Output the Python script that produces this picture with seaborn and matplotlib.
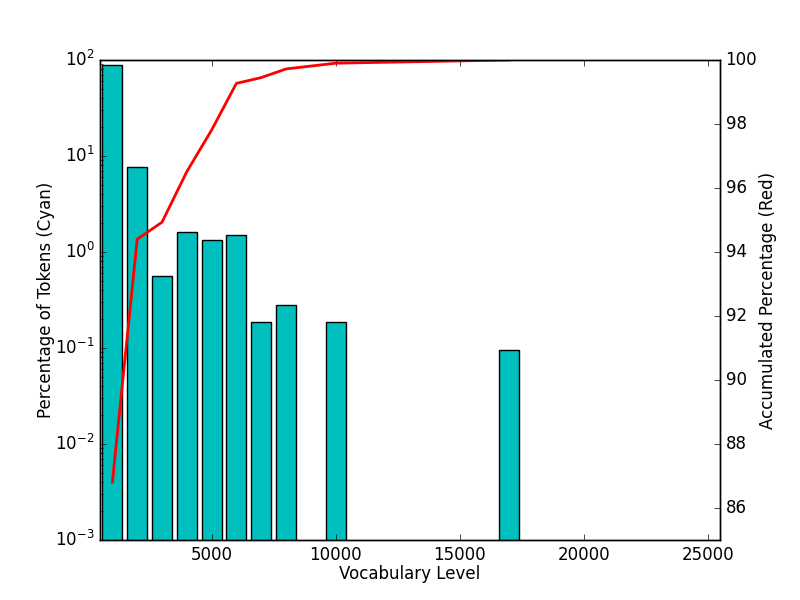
import matplotlib
matplotlib.use("Agg")
import matplotlib.pyplot as plt
import seaborn as sns
import numpy as np

levels = [1000, 2000, 3000, 4000, 5000, 6000, 7000, 8000, 10000, 17000]
token_pct = [88.7, 7.62, 0.558, 1.60, 1.32, 1.49, 0.185, 0.279, 0.185, 0.0946]

acc_levels = [1000, 2000, 3000, 4000, 5000, 6000, 7000, 8000, 9000, 10000, 17000]
acc_pct = [86.81, 94.40, 94.93, 96.51, 97.81, 99.27, 99.45, 99.72, 99.81, 99.90, 100.0]

plt.style.use("classic")
plt.rcParams["font.family"] = ["DejaVu Sans"]
plt.rcParams["axes.unicode_minus"] = False

fig = plt.figure(figsize=(8, 6), dpi=100, facecolor="white")
ax = fig.add_axes([0.125, 0.1, 0.775, 0.8])

sns.barplot(x=levels, y=token_pct, native_scale=True, width=0.8, color="c",
            saturation=1, edgecolor="k", linewidth=1, log_scale=(False, True), ax=ax)
ax.set_yscale("log")
ax.set_ylim(1e-3, 1e2)
ax.set_xlim(500, 25500)
ax.set_xticks([5000, 10000, 15000, 20000, 25000])
ax.set_xlabel("Vocabulary Level", fontsize=12, labelpad=1)
ax.set_ylabel("Percentage of Tokens (Cyan)", fontsize=12, labelpad=0)

ax2 = ax.twinx()
sns.lineplot(x=acc_levels, y=acc_pct, color="r", linewidth=2, ax=ax2)
ax2.set_ylim(85, 100)
ax2.set_yticks([86, 88, 90, 92, 94, 96, 98, 100])
ax2.set_xlim(500, 25500)
ax2.set_ylabel("Accumulated Percentage (Red)", fontsize=12, labelpad=1.5)

fig.savefig("out.png", dpi=100, facecolor="white")
